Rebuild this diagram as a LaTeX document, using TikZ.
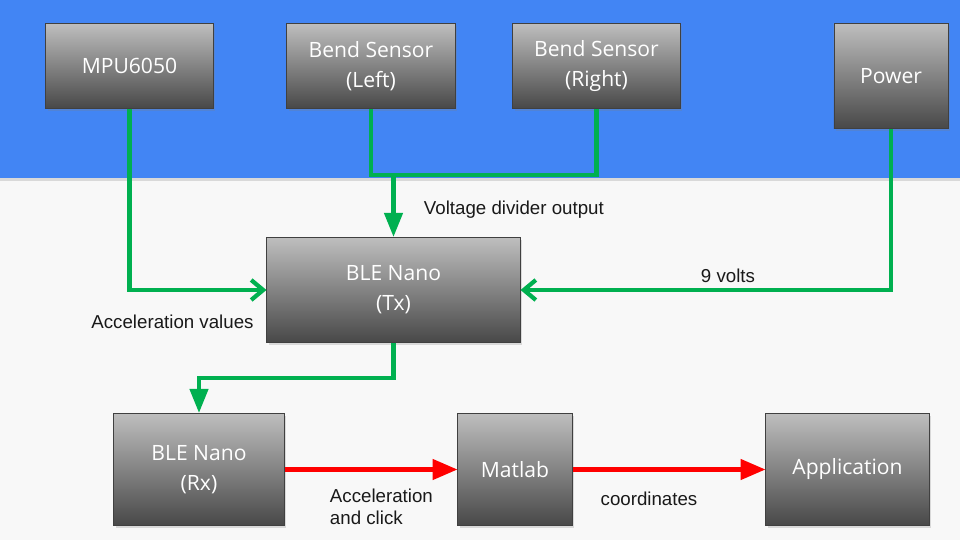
\documentclass[tikz,border=0pt]{standalone}
\usepackage{fontspec}
\setmainfont{Liberation Sans}
\newfontfamily\boxfont{Open Sans}
\usetikzlibrary{arrows.meta, calc, shadows}

\definecolor{bandblue}{RGB}{66,133,244}
\definecolor{paper}{RGB}{248,248,248}
\definecolor{boxtop}{RGB}{190,190,190}
\definecolor{boxbot}{RGB}{72,72,72}
\definecolor{wiregreen}{RGB}{0,176,80}
\definecolor{wirered}{RGB}{255,0,0}

\begin{document}
\begin{tikzpicture}[x=0.025cm, y=-0.025cm]
        \tikzset{block/.style={draw=black!75, line width=0.7pt, top color=boxtop, bottom color=boxbot,
                    text=white, font=\boxfont\fontsize{15}{21.5}\selectfont, align=center, inner sep=0pt,
                    drop shadow={shadow xshift=0.04cm, shadow yshift=-0.06cm, opacity=0.25}},
                 wire/.style={wiregreen, line width=3pt},
                 fedge/.style={wire, -{Triangle[width=0.45cm, length=0.6cm]}},
                 bedge/.style={wire, -{Straight Barb[width=0.5cm, length=0.3cm, line width=3pt]}},
                 redge/.style={wirered, line width=3pt, -{Triangle[width=0.5cm, length=0.62cm]}},
                 note/.style={font=\fontsize{13.3}{16}\selectfont, text=black!90, align=left}}

        \useasboundingbox (0, 0) rectangle (960, 540);
        \fill[paper] (0, 0) rectangle (960, 540);
        \fill[black, opacity=0.12] (0, 178) rectangle (960, 181);
        \fill[bandblue] (0, 0) rectangle (960, 178);

        % sensors
        \node[block, minimum width=4.175cm, minimum height=2.125cm] (mpu) at (129.5, 66) {MPU6050};
        \node[block, minimum width=4.2cm, minimum height=2.125cm] (bendl) at (371, 66) {Bend Sensor\\(Left)};
        \node[block, minimum width=4.175cm, minimum height=2.125cm] (bendr) at (596.5, 66) {Bend Sensor\\(Right)};
        \node[block, minimum width=2.85cm, minimum height=2.625cm] (power) at (891, 76) {Power};

        % radio
        \node[block, minimum width=6.325cm, minimum height=2.625cm] (tx) at (393.5, 290) {BLE Nano\\(Tx)};
        \node[block, minimum width=4.25cm, minimum height=2.8cm] (rx) at (199, 469.5) {BLE Nano\\(Rx)};
        \node[block, minimum width=2.85cm, minimum height=2.8cm] (matlab) at (515, 469.5) {Matlab};
        \node[block, minimum width=4.075cm, minimum height=2.8cm] (app) at (847.5, 469.5) {Application};

        \coordinate (join) at ($(tx.north |- 0, 175)$);

        \draw[wire] (bendl.south) |- (join) -| (bendr.south);
        \draw[fedge] (join) -- (tx.north);
        \draw[bedge] (mpu.south) |- (tx.west);
        \draw[bedge] (power.south) |- (tx.east);
        \draw[fedge] (tx.south) -- ++(0, 35) -| (rx.north);

        \draw[redge] (rx.east) -- (matlab.west);
        \draw[redge] (matlab.east) -- (app.west);

        \node[note, anchor=west] (vdo) at (419, 210) {Voltage divider output};
        \node[note] (nine) at (728, 276) {9 volts};
        \node[note] (accv) at (172.5, 322) {Acceleration values};
        \node[note, anchor=west] (accc) at (325, 507) {Acceleration\\and click};
        \node[note] (coord) at (649, 499) {coordinates};
    \end{tikzpicture}
\end{document}
